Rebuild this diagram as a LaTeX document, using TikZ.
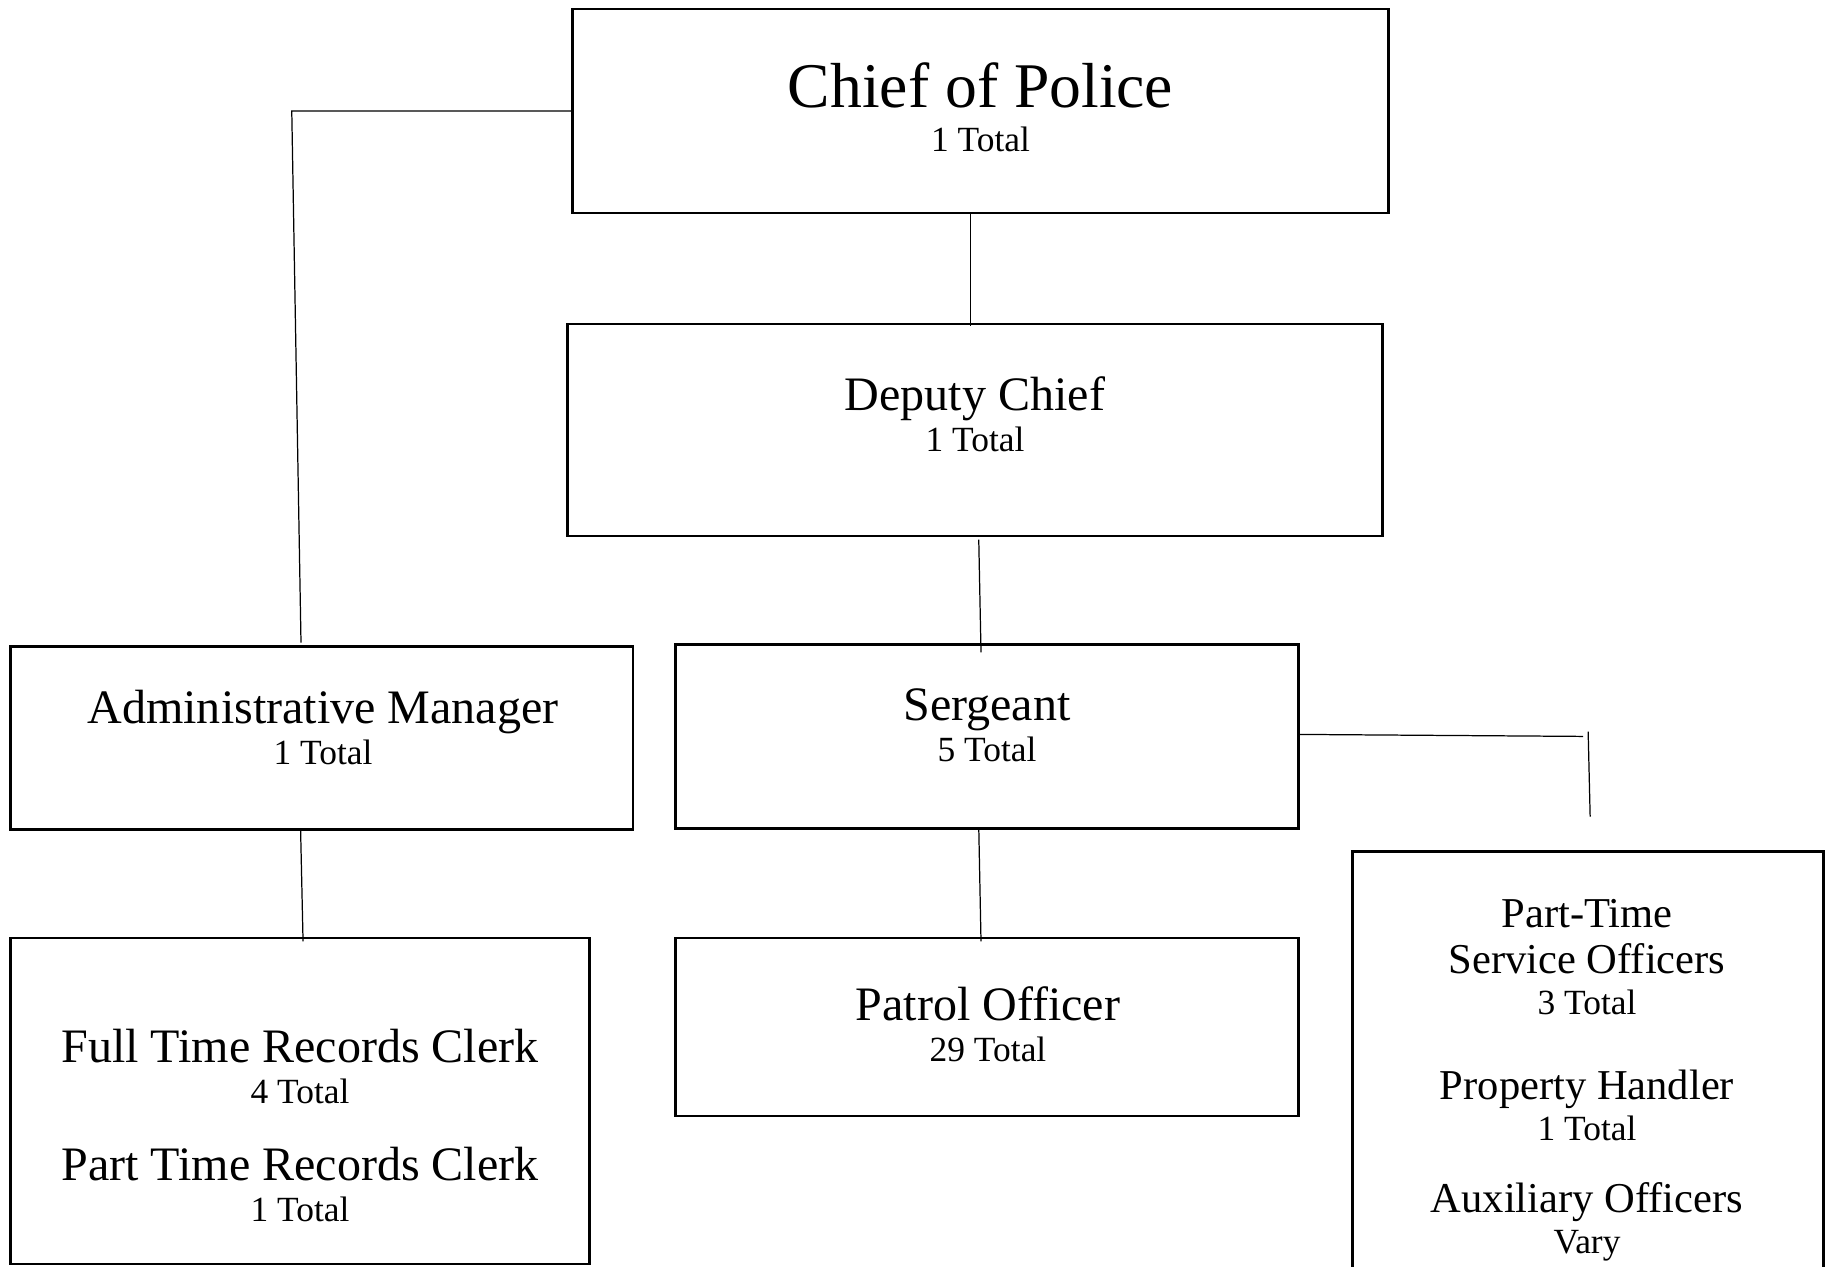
\documentclass[tikz,border=0pt]{standalone}
\usepackage{fontspec}
\setmainfont{Liberation Serif}
\usetikzlibrary{calc}

\newcommand{\tot}[1]{{\fontsize{10.07}{11.67}\selectfont #1}}

\begin{document}
\begin{tikzpicture}[x=0.01cm, y=-0.01cm,
    box/.style={draw, line width=0.75pt, inner sep=0pt, outer sep=0pt},
    role/.style={align=center, inner sep=0pt, font=\fontsize{13.66}{11.67}\selectfont},
    link/.style={line width=0.35pt}
]
\useasboundingbox (0,0) rectangle (1827,1266);
\clip (0,0) rectangle (1827,1266);

% --- Boxes ---
\node[box, minimum width=8.15cm, minimum height=2.04cm] (chief) at (980.5,111) {};
\node[box, minimum width=8.145cm, minimum height=2.12cm] (deputy) at (974.75,430) {};
\node[box, minimum width=6.222cm, minimum height=1.829cm] (admin) at (321.6,738.2) {};
\node[box, minimum width=6.222cm, minimum height=1.841cm] (sergeant) at (986.9,736.4) {};
\node[box, minimum width=5.791cm, minimum height=3.26cm] (clerks) at (300.05,1101) {};
\node[box, minimum width=6.222cm, minimum height=1.78cm] (patrol) at (986.9,1027) {};
\node[box, minimum width=4.707cm, minimum height=5cm] (support) at (1588.15,1101.8) {};

% --- Titles ---
\node[role, font=\fontsize{18.1}{12.5}\selectfont] (chiefT) at (980.5,107) {Chief of Police\\\tot{1 Total}};
\node[role] (deputyT) at (975,414) {Deputy Chief\\\tot{1 Total}};
\node[role] (adminT) at (323,727.6) {Administrative Manager\\\tot{1 Total}};
\node[role] (sergeantT) at (987,725.7) {Sergeant\\\tot{5 Total}};
\node[role] (patrolT) at (988,1024.6) {Patrol Officer\\\tot{29 Total}};
\node[role] (clerksT) at (300,1125.5) {Full Time Records Clerk\\\tot{4 Total}\\[10.2pt]
    Part Time Records Clerk\\\tot{1 Total}};
\node[role, font=\fontsize{12.1}{11.67}\selectfont] (supportT) at (1587,1080) {Part-Time\\[1.3pt]Service Officers\\\tot{3 Total}\\[12.5pt]
    Property Handler\\\tot{1 Total}\\[8.8pt]Auxiliary Officers\\\tot{Vary}};

% --- Lines ---
\draw[link] (chief.west) -- ++(-281,0) -- ($(admin.north)+(-20.6,-4)$);
\draw[link] ($(chief.south)+(-9.9,0)$) -- ($(deputy.north)+(-4.15,2)$);
\draw[link] ($(deputy.south)+(4,3.5)$) -- ($(sergeant.north)+(-5.9,8)$);
\draw[link] ($(admin.south)+(-21,0)$) -- ($(clerks.north)+(3,3.5)$);
\draw[link] ($(sergeant.south)+(-8.1,1)$) -- ($(patrol.north)+(-5.9,3.5)$);
\draw[link] ($(sergeant.east)+(0,-2)$) -- ++(285,2);
\draw[link] ($(support.north)+(0,-120)$) -- ($(support.north)+(2,-35)$);

\end{tikzpicture}
\end{document}
